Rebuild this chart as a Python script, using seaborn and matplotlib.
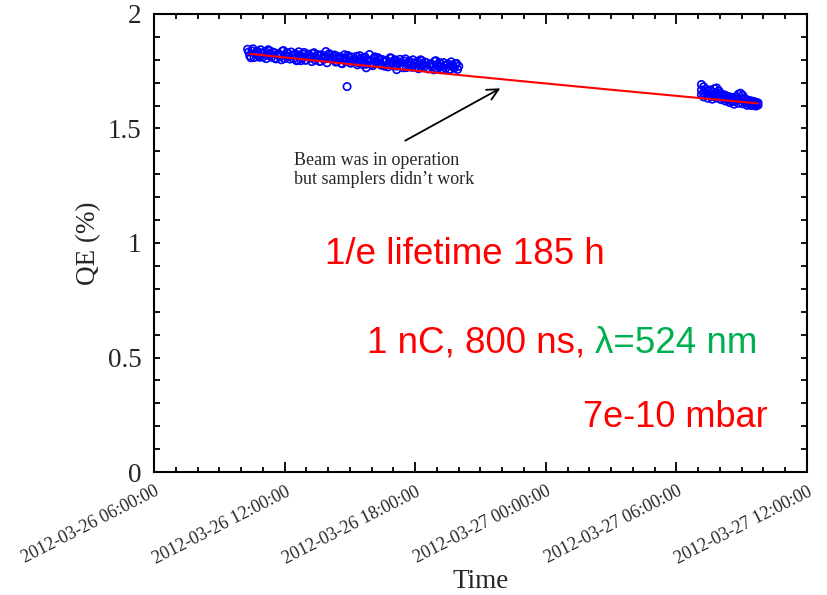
import numpy as np
import pandas as pd
import matplotlib
matplotlib.use("Agg")
import matplotlib.pyplot as plt
import matplotlib.dates as mdates
import matplotlib.transforms as mtransforms
from matplotlib.ticker import MultipleLocator, FuncFormatter
import seaborn as sns

# time in hours after 2012-03-26 00:00, QE in %
run1_hours = [
    10.3, 10.4, 10.5, 10.6, 10.7, 10.8, 10.9, 11.0, 11.1, 11.2,
    11.3, 11.4, 11.5, 11.6, 11.7, 11.8, 11.9, 12.0, 12.1, 12.2,
    12.3, 12.4, 12.5, 12.6, 12.7, 12.8, 12.9, 13.0, 13.1, 13.2,
    13.3, 13.4, 13.5, 13.6, 13.7, 13.8, 13.9, 14.0, 14.1, 14.2,
    14.3, 14.4, 14.5, 14.6, 14.7, 14.8, 14.9, 15.0, 15.1, 15.2,
    15.3, 15.4, 15.5, 15.6, 15.7, 15.8, 15.9, 16.0, 16.1, 16.2,
    16.3, 16.4, 16.5, 16.6, 16.7, 16.8, 16.9, 17.0, 17.1, 17.2,
    17.3, 17.4, 17.5, 17.6, 17.7, 17.8, 17.9, 18.0, 18.1, 18.2,
    18.3, 18.4, 18.5, 18.6, 18.7, 18.8, 18.9, 19.0, 19.1, 19.2,
    19.3, 19.4, 19.5, 19.6, 19.7, 19.8, 19.9, 20.0,
]
run1_qe = [
    1.846, 1.817, 1.839, 1.810, 1.834, 1.819, 1.844, 1.812, 1.837, 1.820,
    1.840, 1.811, 1.832, 1.804, 1.827, 1.813, 1.838, 1.805, 1.831, 1.814,
    1.834, 1.805, 1.826, 1.798, 1.821, 1.806, 1.832, 1.799, 1.825, 1.808,
    1.827, 1.799, 1.822, 1.793, 1.822, 1.802, 1.836, 1.805, 1.822, 1.802,
    1.821, 1.792, 1.814, 1.785, 1.809, 1.794, 1.819, 1.787, 1.812, 1.795,
    1.815, 1.786, 1.807, 1.779, 1.812, 1.798, 1.823, 1.780, 1.806, 1.789,
    1.809, 1.780, 1.801, 1.772, 1.796, 1.781, 1.807, 1.774, 1.799, 1.783,
    1.802, 1.773, 1.795, 1.766, 1.789, 1.775, 1.800, 1.768, 1.793, 1.776,
    1.796, 1.767, 1.788, 1.760, 1.783, 1.768, 1.794, 1.761, 1.787, 1.770,
    1.788, 1.762, 1.782, 1.758, 1.778, 1.764, 1.784, 1.772,
]
# the samples taken in between
run1b_hours = [
    10.35, 10.45, 10.55, 10.65, 10.75, 10.85, 10.95, 11.05, 11.15, 11.25,
    11.35, 11.45, 11.55, 11.65, 11.75, 11.85, 11.95, 12.05, 12.15, 12.25,
    12.35, 12.45, 12.55, 12.65, 12.75, 12.85, 12.95, 13.05, 13.15, 13.25,
    13.35, 13.45, 13.55, 13.65, 13.75, 13.85, 13.95, 14.05, 14.15, 14.25,
    14.35, 14.45, 14.55, 14.65, 14.75, 14.85, 14.95, 15.05, 15.15, 15.25,
    15.35, 15.45, 15.55, 15.65, 15.75, 15.85, 15.95, 16.05, 16.15, 16.25,
    16.35, 16.45, 16.55, 16.65, 16.75, 16.85, 16.95, 17.05, 17.15, 17.25,
    17.35, 17.45, 17.55, 17.65, 17.75, 17.85, 17.95, 18.05, 18.15, 18.25,
    18.35, 18.45, 18.55, 18.65, 18.75, 18.85, 18.95, 19.05, 19.15, 19.25,
    19.35, 19.45, 19.55, 19.65, 19.75, 19.85, 19.95,
]
run1b_qe = [
    1.834, 1.809, 1.848, 1.826, 1.838, 1.811, 1.827, 1.829, 1.805, 1.844,
    1.821, 1.834, 1.807, 1.822, 1.825, 1.800, 1.840, 1.817, 1.829, 1.803,
    1.818, 1.821, 1.796, 1.835, 1.813, 1.825, 1.798, 1.814, 1.816, 1.792,
    1.831, 1.808, 1.821, 1.794, 1.809, 1.812, 1.787, 1.827, 1.804, 1.816,
    1.790, 1.805, 1.807, 1.783, 1.822, 1.799, 1.812, 1.785, 1.801, 1.803,
    1.778, 1.818, 1.795, 1.807, 1.781, 1.796, 1.798, 1.774, 1.813, 1.791,
    1.803, 1.776, 1.792, 1.794, 1.769, 1.809, 1.786, 1.799, 1.772, 1.787,
    1.790, 1.765, 1.804, 1.782, 1.794, 1.767, 1.783, 1.785, 1.761, 1.800,
    1.777, 1.790, 1.763, 1.778, 1.781, 1.756, 1.796, 1.773, 1.785, 1.759,
    1.774, 1.776, 1.756, 1.791, 1.769, 1.781, 1.758,
]
stray_hours = [12.75, 14.87, 15.75, 17.15]
stray_qe = [1.796, 1.683, 1.765, 1.757]

run2_hours = [
    31.15, 31.15, 31.15, 31.25, 31.25, 31.25, 31.35, 31.35,
    31.45, 31.45, 31.45, 31.55, 31.55, 31.65, 31.65, 31.65,
    31.75, 31.75, 31.85, 31.85, 31.85, 31.95, 31.95,
    32.05, 32.05, 32.05, 32.15, 32.15, 32.25, 32.25, 32.25,
    32.35, 32.35, 32.45, 32.45, 32.45, 32.55, 32.55,
    32.65, 32.65, 32.65, 32.75, 32.75, 32.85, 32.85, 32.85,
    32.95, 32.95, 33.05, 33.05, 33.05, 33.15, 33.15,
    33.25, 33.25, 33.25, 33.35, 33.35, 33.45, 33.45, 33.45,
    33.55, 33.55, 33.65, 33.65, 33.65, 33.75, 33.75,
]
run2_qe = [
    1.692, 1.668, 1.648, 1.682, 1.655, 1.638, 1.672, 1.658,
    1.665, 1.648, 1.632, 1.668, 1.643, 1.660, 1.640, 1.628,
    1.674, 1.650, 1.677, 1.655, 1.633, 1.665, 1.640,
    1.652, 1.638, 1.626, 1.648, 1.630, 1.645, 1.635, 1.620,
    1.640, 1.624, 1.638, 1.628, 1.613, 1.635, 1.618,
    1.632, 1.618, 1.606, 1.640, 1.622, 1.650, 1.628, 1.610,
    1.654, 1.630, 1.645, 1.625, 1.608, 1.630, 1.614,
    1.625, 1.612, 1.601, 1.622, 1.606, 1.620, 1.610, 1.600,
    1.618, 1.603, 1.615, 1.606, 1.598, 1.612, 1.602,
]

# exponential fit shown in red
fit_qe0 = 1.826
fit_start_h = 10.4
fit_end_h = 33.75
lifetime_h = 185.0

t_zero = pd.Timestamp("2012-03-26 00:00:00")
hours = run1_hours + run1b_hours + stray_hours + run2_hours
df = pd.DataFrame({
    "time": t_zero + pd.to_timedelta(hours, unit="h"),
    "qe": run1_qe + run1b_qe + stray_qe + run2_qe,
})
fit_h = np.linspace(fit_start_h, fit_end_h, 60)
fit_df = pd.DataFrame({
    "time": t_zero + pd.to_timedelta(fit_h, unit="h"),
    "qe": fit_qe0 * np.exp(-(fit_h - fit_start_h) / lifetime_h),
})

sns.set_style("ticks")
plt.rcParams["font.family"] = ["Liberation Serif", "DejaVu Serif"]

fig = plt.figure(figsize=(8.27, 5.95), dpi=100)
ax = fig.add_axes([0.1862, 0.2067, 0.7896, 0.7698])

sns.scatterplot(data=df, x="time", y="qe", ax=ax, marker="o", s=28,
                facecolor="none", edgecolor="blue", linewidth=1.2, zorder=2)
sns.lineplot(data=fit_df, x="time", y="qe", ax=ax, color="red", lw=1.5, zorder=3)

ax.set_xlim(pd.Timestamp("2012-03-26 06:00:00"), pd.Timestamp("2012-03-27 12:00:00"))
ax.set_ylim(0, 2)
ax.xaxis.set_major_locator(mdates.HourLocator(byhour=[0, 6, 12, 18]))
ax.xaxis.set_minor_locator(mdates.HourLocator(interval=1))
ax.xaxis.set_major_formatter(mdates.DateFormatter("%Y-%m-%d %H:%M:%S"))
ax.yaxis.set_major_locator(MultipleLocator(0.5))
ax.yaxis.set_minor_locator(MultipleLocator(0.1))
ax.yaxis.set_major_formatter(FuncFormatter(lambda v, p: f"{v:g}"))

for s in ax.spines.values():
    s.set_linewidth(1.5)
    s.set_color("black")
ax.tick_params(which="both", direction="in", top=True, right=True, width=1.3, color="black")
ax.tick_params(axis="x", which="major", length=7, pad=8, labelsize=13)
ax.tick_params(axis="x", which="minor", length=3.5)
ax.tick_params(axis="y", which="both", length=4, pad=9, labelsize=19.5)

shift = mtransforms.ScaledTranslation(0.08, 0, fig.dpi_scale_trans)
for lbl in ax.get_xticklabels():
    lbl.set_rotation(27)
    lbl.set_ha("right")
    lbl.set_transform(lbl.get_transform() + shift)

ax.set_xlabel("Time", fontsize=19.5, labelpad=1)
ax.set_ylabel("QE (%)", fontsize=19.5, labelpad=5)

ax.annotate("", xy=(0.534, 0.8406), xytext=(0.381, 0.7205), xycoords="axes fraction",
            arrowprops=dict(arrowstyle="->", color="black", lw=1.3, mutation_scale=20))
ax.text(0.2144, 0.699, "Beam was in operation\nbut samplers didn\u2019t work",
        transform=ax.transAxes, ha="left", va="top", fontsize=13, linespacing=1.2)

sans = ["Liberation Sans", "DejaVu Sans"]
ax.text(0.262, 0.474, "1/e lifetime 185 h", transform=ax.transAxes, color="red",
        fontsize=26.5, family=sans, va="center", ha="left")
t_beam = ax.text(0.326, 0.281, "1 nC, 800 ns, ", transform=ax.transAxes, color="red",
                 fontsize=26.5, family=sans, va="center", ha="left")
ax.annotate("\u03bb=524 nm", xy=(1, 0), xycoords=t_beam, va="bottom", ha="left",
            color="#00b050", fontsize=26.5, family=sans)
ax.text(0.657, 0.118, "7e-10 mbar", transform=ax.transAxes, color="red",
        fontsize=26, family=sans, va="center", ha="left")

fig.savefig("out.png", dpi=100)
